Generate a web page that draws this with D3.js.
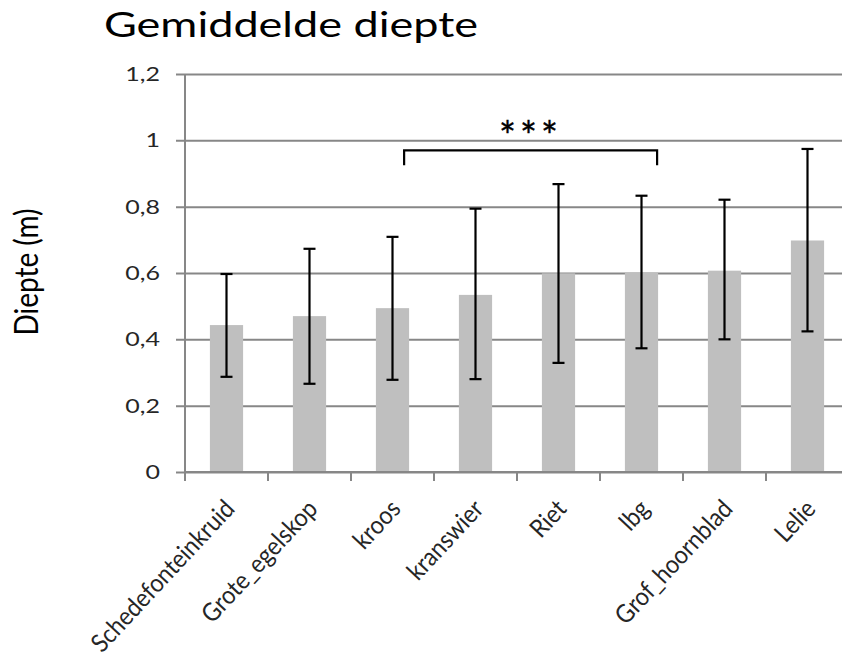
<!DOCTYPE html>
<html>
<head>
<meta charset="utf-8">
<script src="https://cdn.jsdelivr.net/npm/d3@7"></script>
<style>
  body { margin: 0; background: #fff; }
  text { font-family: Lato, "Open Sans", sans-serif; }
</style>
</head>
<body>
<div id="chart"></div>
<script>
// soorten, gemiddelde diepte (m) en foutbalken
const categories = ['Schedefonteinkruid', 'Grote_egelskop', 'kroos', 'kranswier', 'Riet', 'lbg', 'Grof_hoornblad', 'Lelie'];
const means = [0.443, 0.470, 0.494, 0.534, 0.599, 0.601, 0.607, 0.698];
const errLow = [0.287, 0.266, 0.278, 0.280, 0.329, 0.373, 0.400, 0.424];
const errHigh = [0.597, 0.673, 0.709, 0.794, 0.868, 0.833, 0.821, 0.974];
const yTicks = [0, 0.2, 0.4, 0.6, 0.8, 1, 1.2];
const bracket = { from: 'kroos', to: 'lbg', top: 0.97, bottom: 0.925, label: '***' };

const W = 842, H = 660;
const margin = { top: 74, right: -7, bottom: 188, left: 185 };
const width = W - margin.left - margin.right;
const height = H - margin.top - margin.bottom;

// the source picture is slightly wider than tall, stretch the glyphs a bit
const stretch = 1.25;
function widen(sel) {
  sel.each(function () {
    const w = this.getComputedTextLength();
    d3.select(this)
      .attr('textLength', w * stretch)
      .attr('lengthAdjust', 'spacingAndGlyphs');
  });
}

const svg = d3.select('#chart').append('svg')
  .attr('width', W)
  .attr('height', H);

const x = d3.scaleBand()
  .domain(categories)
  .range([0, width])
  .paddingInner(0.6)
  .paddingOuter(0.3);

const y = d3.scaleLinear()
  .domain([0, 1.2])
  .range([height, 0]);

const fmt = d => String(d).replace('.', ',');

const plot = svg.append('g')
  .attr('transform', `translate(${margin.left},${margin.top})`);

// gridlines + y labels
const yAxis = plot.append('g')
  .attr('class', 'axis y')
  .call(d3.axisLeft(y).tickValues(yTicks).tickFormat(fmt));
yAxis.select('.domain').remove();
yAxis.selectAll('.tick line')
  .attr('x1', -9)
  .attr('x2', width)
  .attr('stroke', '#878787')
  .attr('stroke-width', 2);
yAxis.selectAll('.tick text')
  .attr('x', -25)
  .attr('fill', '#262626')
  .style('font-size', '20px')
  .call(widen);

// bars
plot.selectAll('rect.bar')
  .data(categories)
  .join('rect')
  .attr('class', 'bar')
  .attr('x', d => x(d))
  .attr('y', (d, i) => y(means[i]))
  .attr('width', x.bandwidth())
  .attr('height', (d, i) => height - y(means[i]))
  .attr('fill', '#bfbfbf');

// y axis line
plot.append('line')
  .attr('x1', 0).attr('x2', 0)
  .attr('y1', 0).attr('y2', height)
  .attr('stroke', '#878787')
  .attr('stroke-width', 2);

// x axis
const step = x.step();
const xAxis = plot.append('g')
  .attr('class', 'axis x')
  .attr('transform', `translate(0,${height})`);
xAxis.append('line')
  .attr('x1', 0).attr('x2', width)
  .attr('stroke', '#878787')
  .attr('stroke-width', 2);
xAxis.selectAll('line.tick')
  .data(categories)
  .join('line')
  .attr('class', 'tick')
  .attr('x1', d => x(d) - 0.5 * (step - x.bandwidth()))
  .attr('x2', d => x(d) - 0.5 * (step - x.bandwidth()))
  .attr('y1', 0).attr('y2', 9)
  .attr('stroke', '#878787')
  .attr('stroke-width', 2);
xAxis.selectAll('text')
  .data(categories)
  .join('text')
  .attr('transform', d => `translate(${x(d) + x.bandwidth() / 2 + 3},${32}) rotate(-47) scale(1,1.1)`)
  .attr('text-anchor', 'end')
  .attr('dy', '0.35em')
  .attr('fill', '#262626')
  .style('font-size', '23px')
  .text(d => d);

// error bars
const cap = 6;
const errs = plot.selectAll('g.err')
  .data(categories)
  .join('g')
  .attr('class', 'err')
  .attr('transform', d => `translate(${x(d) + x.bandwidth() / 2},0)`)
  .attr('stroke', '#000')
  .attr('stroke-width', 2.2);
errs.append('line')
  .attr('y1', (d, i) => y(errLow[i]))
  .attr('y2', (d, i) => y(errHigh[i]));
errs.append('line')
  .attr('x1', -cap).attr('x2', cap)
  .attr('y1', (d, i) => y(errLow[i]))
  .attr('y2', (d, i) => y(errLow[i]));
errs.append('line')
  .attr('x1', -cap).attr('x2', cap)
  .attr('y1', (d, i) => y(errHigh[i]))
  .attr('y2', (d, i) => y(errHigh[i]));

// significance bracket
const bx1 = x(bracket.from) + x.bandwidth() * 0.85;
const bx2 = x(bracket.to) + x.bandwidth() * 0.97;
plot.append('path')
  .attr('d', `M${bx1},${y(bracket.bottom)}V${y(bracket.top)}H${bx2}V${y(bracket.bottom)}`)
  .attr('fill', 'none')
  .attr('stroke', '#000')
  .attr('stroke-width', 2.2);
plot.append('text')
  .attr('x', (bx1 + bx2) / 2)
  .attr('y', y(bracket.top) + 1)
  .attr('text-anchor', 'middle')
  .attr('fill', '#000')
  .attr('stroke', '#000')
  .attr('stroke-width', 0.4)
  .style('font-size', '40px')
  .style('letter-spacing', '4px')
  .text(bracket.label);

// title + y label
svg.append('text')
  .attr('x', 104)
  .attr('y', 37)
  .attr('fill', '#000')
  .style('font-size', '34px')
  .attr('textLength', 374)
  .attr('lengthAdjust', 'spacingAndGlyphs')
  .text('Gemiddelde diepte');

svg.append('text')
  .attr('transform', `translate(38,${margin.top + height / 2 - 1}) rotate(-90) scale(1,1.15)`)
  .attr('text-anchor', 'middle')
  .attr('fill', '#000')
  .style('font-size', '28px')
  .text('Diepte (m)');
</script>
</body>
</html>
